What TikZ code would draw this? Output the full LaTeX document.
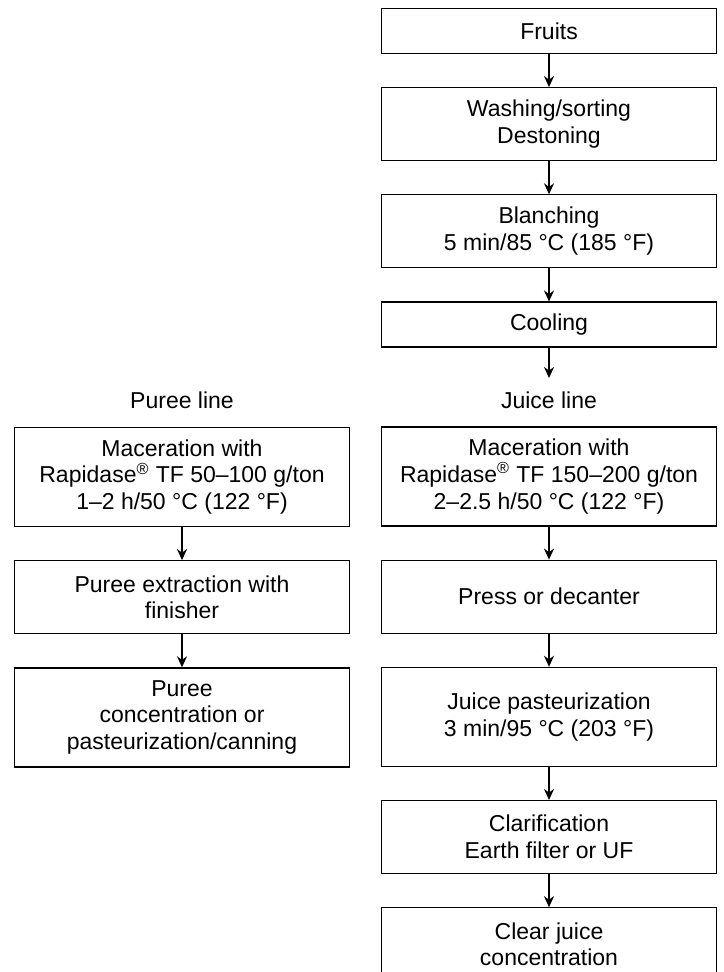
\documentclass[tikz,border=0pt]{standalone}
\usepackage{fontspec}
\setmainfont{Liberation Sans}
\usetikzlibrary{positioning,arrows.meta}

\begin{document}
\begin{tikzpicture}[x=0.5pt,y=-0.5pt,>={Stealth[length=5.5pt,width=5pt]},
  font=\fontsize{11.5}{13.4}\selectfont,
  stage/.style={draw,line width=0.6pt,minimum width=167.5pt,inner sep=2pt,align=center},
  one/.style={stage,minimum height=22.5pt},
  two/.style={stage,minimum height=36.5pt},
  three/.style={stage,minimum height=49.5pt},
  flow/.style={->,line width=1pt}]
  \clip (0,0) rectangle (723,972);
  % ---- common steps ----
  \node[one] (fruits) at (549,31) {Fruits};
  \node[two,below=16.5pt of fruits] (wash) {Washing/sorting\\Destoning};
  \node[two,below=16.5pt of wash] (blanch) {Blanching\\5 min/85 °C (185 °F)};
  \node[one,below=16.5pt of blanch] (cool) {Cooling};
  \coordinate (jend) at (549,378);
  \draw[flow] (fruits) -- (wash);
  \draw[flow] (wash) -- (blanch);
  \draw[flow] (blanch) -- (cool);
  \draw[flow] (cool) -- (jend);
  % ---- puree line ----
  \node (pline) at (182,400) {Puree line};
  \node[three] (pmac) at (182,477)
     {Maceration with\\Rapidase\textsuperscript{\textregistered} TF 50--100 g/ton\\1--2 h/50 °C (122 °F)};
  \node[two,below=16.5pt of pmac] (pext) {Puree extraction with\\finisher};
  \node[three,below=16.5pt of pext] (pconc)
     {Puree\\concentration or\\pasteurization/canning};
  \draw[flow] (pmac) -- (pext);
  \draw[flow] (pext) -- (pconc);
  % ---- juice line ----
  \node (jline) at (549,400) {Juice line};
  \node[three] (jmac) at (549,476.5)
     {Maceration with\\Rapidase\textsuperscript{\textregistered} TF 150--200 g/ton\\2--2.5 h/50 °C (122 °F)};
  \node[two,below=16.5pt of jmac] (press) {Press or decanter};
  \node[three,below=16.5pt of press] (jpast) {Juice pasteurization\\3 min/95 °C (203 °F)};
  \node[two,below=16.5pt of jpast] (clar) {Clarification\\Earth filter or UF};
  \node[two,below=16.5pt of clar] (cconc) {Clear juice\\concentration};
  \draw[flow] (jmac) -- (press);
  \draw[flow] (press) -- (jpast);
  \draw[flow] (jpast) -- (clar);
  \draw[flow] (clar) -- (cconc);
\end{tikzpicture}
\end{document}
